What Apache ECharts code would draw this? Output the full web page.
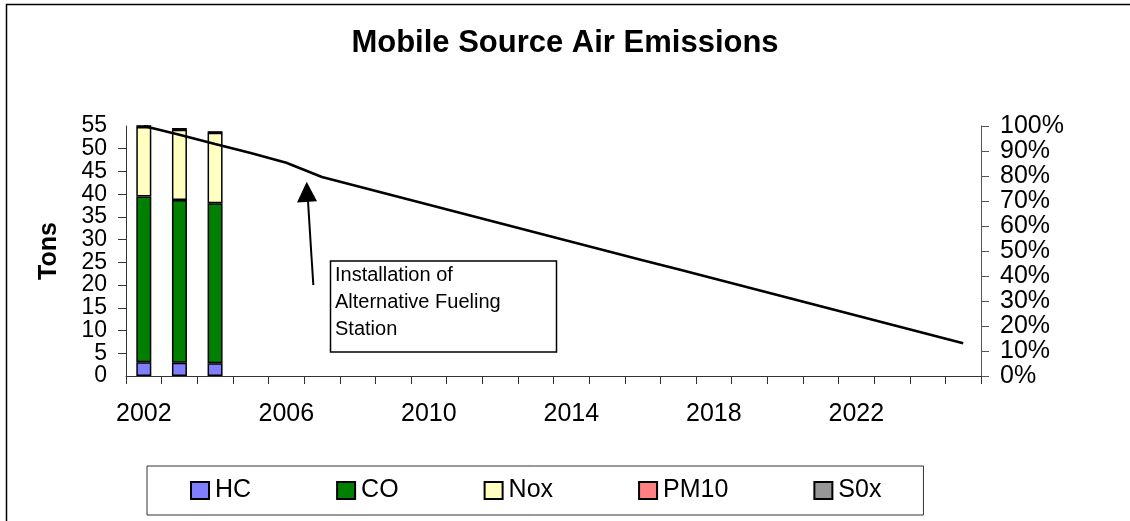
<!DOCTYPE html>
<html>
<head>
<meta charset="utf-8">
<script src="https://cdn.jsdelivr.net/npm/echarts@6/dist/echarts.min.js"></script>
<style>
  html, body { margin: 0; padding: 0; background: #fff; }
  #chart { width: 1130px; height: 521px; }
</style>
</head>
<body>
<div id="chart"></div>
<script>
const years = ["2002", "2003", "2004", "2005", "2006", "2007", "2008", "2009", "2010", "2011", "2012", "2013",
  "2014", "2015", "2016", "2017", "2018", "2019", "2020", "2021", "2022", "2023", "2024", "2025"];

// tons, only the first three years have bars
const hc = [3.0, 2.9, 2.8];
const co = [36.5, 35.8, 35.2];
const nox = [15.3, 15.5, 15.5];
const pm10 = [0.15, 0.15, 0.15];
const sox = [0.05, 0.05, 0.05];

// percent of 2002 level (right axis)
const pctLine = [100, 96.5, 92.8, 89.2, 85.3, 79.6, 75.9, 72.2, 68.5, 64.8, 61.1, 57.4,
  53.7, 50.0, 46.3, 42.7, 39.0, 35.3, 31.6, 27.9, 24.2, 20.5, 16.8, 13.1];

const tonsMax = 55;

const font = "'Liberation Sans', Arial, sans-serif";

const chart = echarts.init(document.getElementById("chart"));

const barSeries = (name, data, color) => ({
  name,
  type: "bar",
  stack: "tons",
  barWidth: 15,
  data,
  itemStyle: { color, borderColor: "#000", borderWidth: 1.5 },
});

const tickLabel = (size, suffix) => ({
  fontFamily: font,
  fontSize: size,
  color: "#000",
  margin: 19,
  formatter: "{value}" + suffix,
});

chart.setOption({
  animation: false,
  backgroundColor: "#fff",
  title: {
    text: "Mobile Source Air Emissions",
    left: "center",
    top: 23,
    textStyle: { fontFamily: font, fontSize: 31, fontWeight: "bold", color: "#000" },
  },
  grid: { left: 126, right: 149, top: 126, bottom: 145 },
  legend: {
    data: ["HC", "CO", "Nox", "PM10", "S0x"],
    left: 147,
    top: 466,
    padding: [12, 42, 12, 43],
    itemGap: 85,
    itemWidth: 18,
    itemHeight: 17,
    borderColor: "#333",
    borderWidth: 1,
    icon: "rect",
    textStyle: { fontFamily: font, fontSize: 25, color: "#000", padding: [0, 0, 0, 1] },
  },
  xAxis: {
    type: "category",
    data: years,
    axisLine: { lineStyle: { color: "#333", width: 1 } },
    axisTick: { show: true, interval: 0, length: 8, lineStyle: { color: "#333" } },
    axisLabel: { interval: 3, fontFamily: font, fontSize: 25, color: "#000", margin: 26 },
    splitLine: { show: false },
  },
  yAxis: [
    {
      type: "value",
      min: 0,
      max: tonsMax,
      interval: 5,
      name: "Tons",
      nameLocation: "middle",
      nameGap: 64,
      nameTextStyle: { fontFamily: font, fontSize: 25, fontWeight: "bold", color: "#000" },
      axisLine: { show: true, lineStyle: { color: "#333" } },
      axisTick: { show: true, length: 8, lineStyle: { color: "#333" } },
      axisLabel: Object.assign(tickLabel(23, ""), { showMinLabel: false, showMaxLabel: false }),
      splitLine: { show: false },
    },
    {
      type: "value",
      min: 0,
      max: 100,
      interval: 10,
      position: "right",
      axisLine: { show: true, lineStyle: { color: "#555" } },
      axisTick: { show: true, length: 8, lineStyle: { color: "#555" } },
      axisLabel: Object.assign(tickLabel(25, "%"), { showMinLabel: true, showMaxLabel: true }),
      splitLine: { show: false },
    },
    {
      // same tons scale, only carries the end labels 0 and 55
      type: "value",
      min: 0,
      max: tonsMax,
      interval: tonsMax,
      position: "left",
      axisLine: { show: false },
      axisTick: { show: false },
      axisLabel: Object.assign(tickLabel(23, ""), { showMinLabel: true, showMaxLabel: true }),
      splitLine: { show: false },
    },
  ],
  series: [
    barSeries("HC", hc, "#8080ff"),
    barSeries("CO", co, "#008000"),
    barSeries("Nox", nox, "#ffffc0"),
    barSeries("PM10", pm10, "#ff8080"),
    barSeries("S0x", sox, "#969696"),
    {
      name: "Reduction",
      type: "line",
      yAxisIndex: 1,
      data: pctLine,
      symbol: "none",
      lineStyle: { color: "#000", width: 2.5 },
      z: 5,
    },
  ],
  graphic: [
    // outer frame (top and left edges visible)
    { type: "polyline", shape: { points: [[6.5, 521], [6.5, 4.5], [1130, 4.5]] },
      style: { stroke: "#000", lineWidth: 1.5, fill: null } },
    // annotation arrow
    { type: "line", shape: { x1: 313.3, y1: 285, x2: 307.8, y2: 198 },
      style: { stroke: "#000", lineWidth: 2 } },
    { type: "polygon", shape: { points: [[306.7, 181.7], [297, 202.5], [317, 201.2]] },
      style: { fill: "#000" } },
    // annotation box
    { type: "rect", shape: { x: 330.5, y: 261, width: 226, height: 91 },
      style: { fill: "#fff", stroke: "#000", lineWidth: 1.5 } },
    { type: "text", left: 335, top: 262,
      style: { text: "Installation of\nAlternative Fueling\nStation", font: "20px " + font,
        lineHeight: 27, fill: "#000" } },
  ],
});
</script>
</body>
</html>
